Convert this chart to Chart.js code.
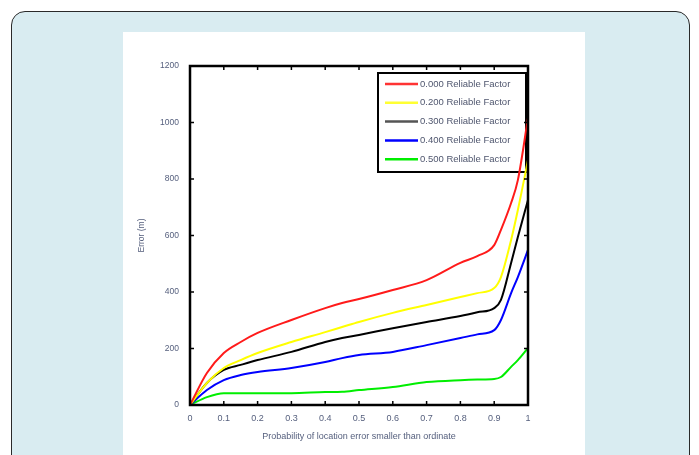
<!DOCTYPE html>
<html lang="en">
<head>
    <meta charset="UTF-8">
    <script src="https://cdn.jsdelivr.net/npm/chart.js"></script>
    <style>
        body {
            margin: 0;
            background: #ffffff;
            width: 699px;
            height: 455px;
            overflow: hidden;
            position: relative;
        }

        .card {
            position: absolute;
            left: 11px;
            top: 11px;
            width: 677px;
            height: 470px;
            border: 1.5px solid #2a2a2a;
            border-radius: 14px;
            background: #d9ecf1;
        }

        .panel {
            position: absolute;
            left: 123px;
            top: 32px;
            width: 462px;
            height: 423px;
            background: #ffffff;
        }
    </style>
    <title>Error vs probability</title>
</head>
<body>
    <div class="card"></div>
    <div class="panel">
        <canvas id="errChart" width="462" height="423"></canvas>
    </div>
    <script>
        // probability values (x axis)
        const probs = [0, 0.05, 0.1, 0.15, 0.2, 0.3, 0.4, 0.45, 0.5, 0.6, 0.7, 0.8, 0.85, 0.9, 0.92, 0.95, 0.97, 1.0];

        // error in metres for each reliable factor
        const rf000 = [0, 113, 184, 223, 255, 301, 343, 361, 375, 407, 442, 503, 527, 566, 620, 715, 796, 1016];
        const rf200 = [0, 78, 131, 159, 184, 223, 258, 276, 294, 326, 354, 382, 396, 414, 453, 584, 690, 867];
        const rf300 = [0, 78, 124, 142, 159, 188, 223, 237, 248, 272, 294, 315, 328, 343, 372, 503, 595, 726];
        const rf400 = [0, 53, 88, 106, 117, 131, 152, 166, 177, 188, 212, 237, 250, 265, 301, 396, 453, 549];
        const rf500 = [0, 28, 42, 42, 42, 42, 46, 47, 53, 64, 81, 88, 90, 92, 99, 135, 159, 202];

        const seriesLabels = ["0.000 Reliable Factor", "0.200 Reliable Factor", "0.300 Reliable Factor", "0.400 Reliable Factor", "0.500 Reliable Factor"];
        const seriesColors = ["#ff1a1a", "#ffff00", "#000000", "#0000ff", "#00ee00"];
        const legendSwatch = ["#ff3333", "#ffff33", "#555555", "#0000ff", "#00ee00"];
        const allSeries = [rf000, rf200, rf300, rf400, rf500];

        const labelColor = "#56607e";
        const fontFamily = "'Liberation Sans Narrow', 'Liberation Sans', Arial, sans-serif";

        function toPoints(values) {
            return values.map((v, i) => ({ x: probs[i], y: v }));
        }

        // legend box sits under the lines, like the original
        const legendPlugin = {
            id: "boxLegend",
            beforeDatasetsDraw(chart) {
                const ctx = chart.ctx;
                const area = chart.chartArea;
                const lx = area.right - 150;
                const ly = area.top + 7;
                const lw = 148;
                const lh = 99;
                ctx.save();
                ctx.fillStyle = "#fff";
                ctx.fillRect(lx, ly, lw, lh);
                ctx.strokeStyle = "#000";
                ctx.lineWidth = 2;
                ctx.strokeRect(lx, ly, lw, lh);
                ctx.font = "9.5px " + fontFamily;
                ctx.textBaseline = "middle";
                chart.data.datasets.forEach((ds, i) => {
                    const y = ly + 11 + i * 18.8;
                    ctx.strokeStyle = legendSwatch[i];
                    ctx.lineWidth = 2.5;
                    ctx.beginPath();
                    ctx.moveTo(lx + 7, y);
                    ctx.lineTo(lx + 40, y);
                    ctx.stroke();
                    ctx.fillStyle = "#4f566e";
                    ctx.fillText(ds.label, lx + 42, y);
                });
                ctx.restore();
            }
        };

        // frame with inward ticks on all four sides
        const framePlugin = {
            id: "frame",
            afterDatasetsDraw(chart) {
                const ctx = chart.ctx;
                const area = chart.chartArea;
                const xs = chart.scales.x;
                const ys = chart.scales.y;
                ctx.save();
                ctx.strokeStyle = "#000";
                ctx.lineWidth = 1.5;
                for (let i = 1; i < 10; i++) {
                    const px = xs.getPixelForValue(i / 10);
                    ctx.beginPath();
                    ctx.moveTo(px, area.bottom);
                    ctx.lineTo(px, area.bottom - 4);
                    ctx.moveTo(px, area.top);
                    ctx.lineTo(px, area.top + 4);
                    ctx.stroke();
                }
                for (let v = 200; v < 1200; v += 200) {
                    const py = ys.getPixelForValue(v);
                    ctx.beginPath();
                    ctx.moveTo(area.left, py);
                    ctx.lineTo(area.left + 4, py);
                    ctx.moveTo(area.right, py);
                    ctx.lineTo(area.right - 4, py);
                    ctx.stroke();
                }
                ctx.lineWidth = 2.5;
                ctx.strokeRect(area.left, area.top, area.right - area.left, area.bottom - area.top);
                ctx.restore();
            }
        };

        const datasets = allSeries.map((vals, i) => ({
            label: seriesLabels[i],
            data: toPoints(vals),
            borderColor: seriesColors[i],
            borderWidth: 2,
            pointRadius: 0,
            fill: false,
            cubicInterpolationMode: "monotone"
        }));

        new Chart(document.getElementById("errChart"), {
            type: "line",
            data: { datasets: datasets },
            options: {
                responsive: false,
                animation: false,
                layout: { padding: { left: 14, top: 34, right: 57, bottom: 13 } },
                plugins: {
                    legend: { display: false },
                    tooltip: { enabled: false }
                },
                scales: {
                    x: {
                        type: "linear",
                        min: 0,
                        max: 1,
                        grid: { display: false },
                        border: { display: false },
                        afterFit: s => { s.height = 37; },
                        ticks: {
                            stepSize: 0.1,
                            padding: 0,
                            color: labelColor,
                            font: { family: fontFamily, size: 9 },
                            maxRotation: 0,
                            callback: v => (Math.round(v * 10) / 10).toString()
                        },
                        title: {
                            display: true,
                            text: "Probability of location error smaller than ordinate",
                            color: labelColor,
                            font: { family: fontFamily, size: 9 },
                            padding: { top: 2, bottom: 0 }
                        }
                    },
                    y: {
                        min: 0,
                        max: 1200,
                        grid: { display: false },
                        border: { display: false },
                        afterFit: s => { s.width = 53; },
                        ticks: {
                            stepSize: 200,
                            padding: 3,
                            color: labelColor,
                            font: { family: fontFamily, size: 8.5 },
                            callback: v => String(v)
                        },
                        title: {
                            display: true,
                            text: "Error (m)",
                            color: labelColor,
                            font: { family: fontFamily, size: 8.5 },
                            padding: { top: 0, bottom: 0 }
                        }
                    }
                }
            },
            plugins: [legendPlugin, framePlugin]
        });
    </script>
</body>
</html>
